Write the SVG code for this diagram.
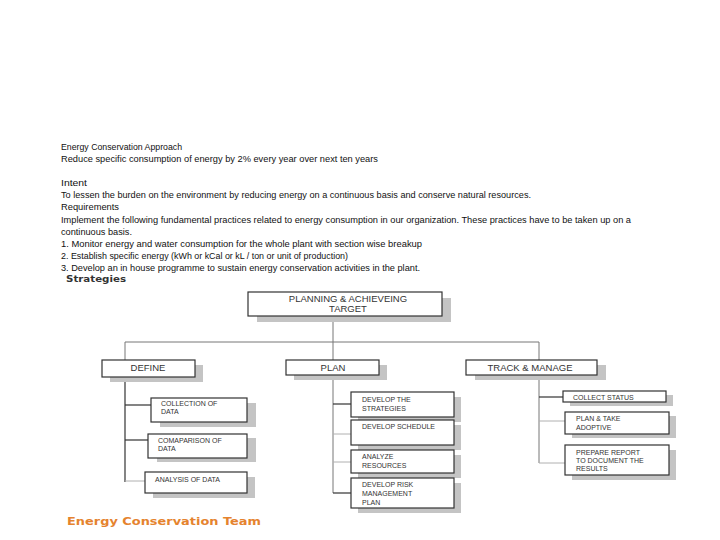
<svg xmlns="http://www.w3.org/2000/svg" width="720" height="540" viewBox="0 0 720 540">
<style>
.p{font-family:"Liberation Sans",Arial,sans-serif;font-size:8.8px;fill:#111}
.h{font-family:"DejaVu Sans","Liberation Sans",sans-serif;font-weight:bold;font-size:8.5px;fill:#333}
.box{fill:#fff;stroke:#333;stroke-width:1.2}
.sh{fill:#c4c4c4}
.t1{font-family:"Liberation Sans",Arial,sans-serif;font-size:9.5px;fill:#333;text-anchor:middle}
.t2{font-family:"Liberation Sans",Arial,sans-serif;font-size:7px;fill:#333}
.dk{stroke:#333;stroke-width:1.2;fill:none}
.md{stroke:#777;stroke-width:1;fill:none}
.lt{stroke:#b0b0b0;stroke-width:1;fill:none}
</style>
<rect width="720" height="540" fill="#fff"/>
<g id="text-block">
<text class="p" x="61" y="150" textLength="121" lengthAdjust="spacingAndGlyphs">Energy Conservation Approach</text>
<text class="p" x="61" y="161.5" textLength="317" lengthAdjust="spacingAndGlyphs">Reduce specific consumption of energy by 2% every year over next ten years</text>
<text class="p" x="61" y="186" textLength="26" lengthAdjust="spacingAndGlyphs">Intent</text>
<text class="p" x="61" y="198" textLength="470" lengthAdjust="spacingAndGlyphs">To lessen the burden on the environment by reducing energy on a continuous basis and conserve natural resources.</text>
<text class="p" x="61" y="210" textLength="58" lengthAdjust="spacingAndGlyphs">Requirements</text>
<text class="p" x="61" y="222.5" textLength="570" lengthAdjust="spacingAndGlyphs">Implement the following fundamental practices related to energy consumption in our organization. These practices have to be taken up on a</text>
<text class="p" x="61" y="234.5" textLength="71" lengthAdjust="spacingAndGlyphs">continuous basis.</text>
<text class="p" x="61" y="246.5" textLength="361" lengthAdjust="spacingAndGlyphs">1. Monitor energy and water consumption for the whole plant with section wise breakup</text>
<text class="p" x="61" y="258.5" textLength="287" lengthAdjust="spacingAndGlyphs">2. Establish specific energy (kWh or kCal or kL / ton or unit of production)</text>
<text class="p" x="61" y="270.5" textLength="359" lengthAdjust="spacingAndGlyphs">3. Develop an in house programme to sustain energy conservation activities in the plant.</text>
<text class="h" x="66" y="282" textLength="60" lengthAdjust="spacingAndGlyphs">Strategies</text>
</g>
<g id="connectors">
<path class="md" d="M333 316V360"/>
<path class="md" d="M125 342H539V360"/>
<path class="md" d="M125 342V360"/>
<path class="dk" d="M125 377V482"/>
<path class="dk" d="M125 405H151"/>
<path class="dk" d="M125 440H148"/>
<path class="lt" d="M125 481H145"/>
<path class="md" d="M333 375V493"/>
<path class="dk" d="M333 404H351"/>
<path class="lt" d="M333 434H351"/>
<path class="lt" d="M333 462H351"/>
<path class="dk" d="M333 493H351"/>
<path class="md" d="M539 375V463"/>
<path class="dk" d="M539 397H563"/>
<path class="lt" d="M539 421H565"/>
<path class="lt" d="M539 463H565"/>
</g>
<g id="node-target">
<rect class="sh" x="257" y="298" width="194" height="24"/>
<rect class="box" x="248" y="292" width="194" height="24"/>
<text class="t1" x="348" y="302">PLANNING &amp; ACHIEVEING</text>
<text class="t1" x="348" y="312">TARGET</text>
</g>
<g id="node-define">
<rect class="sh" x="110" y="365" width="93" height="17"/>
<rect class="box" x="102" y="360" width="93" height="17"/>
<text class="t1" x="148" y="371">DEFINE</text>
</g>
<g id="node-plan">
<rect class="sh" x="294" y="365" width="93" height="15"/>
<rect class="box" x="286" y="360" width="93" height="15"/>
<text class="t1" x="333" y="371">PLAN</text>
</g>
<g id="node-track">
<rect class="sh" x="475" y="365" width="131" height="15"/>
<rect class="box" x="466" y="360" width="131" height="15"/>
<text class="t1" x="530" y="371">TRACK &amp; MANAGE</text>
</g>
<g id="node-collection">
<rect class="sh" x="160" y="403" width="96" height="24"/>
<rect class="box" x="151" y="398" width="96" height="24"/>
<text class="t2" x="161" y="406">COLLECTION OF</text>
<text class="t2" x="161" y="414">DATA</text>
</g>
<g id="node-comparison">
<rect class="sh" x="157" y="438" width="99" height="24"/>
<rect class="box" x="148" y="434" width="99" height="24"/>
<text class="t2" x="158" y="443">COMAPARISON  OF</text>
<text class="t2" x="158" y="451">DATA</text>
</g>
<g id="node-analysis">
<rect class="sh" x="153" y="477" width="102" height="21"/>
<rect class="box" x="145" y="472" width="102" height="21"/>
<text class="t2" x="155" y="482">ANALYSIS OF DATA</text>
</g>
<g id="node-strategies">
<rect class="sh" x="358" y="397" width="103" height="25"/>
<rect class="box" x="351" y="392" width="103" height="25"/>
<text class="t2" x="362" y="402">DEVELOP THE</text>
<text class="t2" x="362" y="411">STRATEGIES</text>
</g>
<g id="node-schedule">
<rect class="sh" x="358" y="425" width="103" height="25"/>
<rect class="box" x="351" y="420" width="103" height="25"/>
<text class="t2" x="362" y="429">DEVELOP SCHEDULE</text>
</g>
<g id="node-resources">
<rect class="sh" x="358" y="455" width="103" height="23"/>
<rect class="box" x="351" y="450" width="103" height="23"/>
<text class="t2" x="362" y="459">ANALYZE</text>
<text class="t2" x="362" y="468">RESOURCES</text>
</g>
<g id="node-risk">
<rect class="sh" x="358" y="483" width="103" height="30"/>
<rect class="box" x="351" y="478" width="103" height="30"/>
<text class="t2" x="362" y="487">DEVELOP RISK</text>
<text class="t2" x="362" y="496">MANAGEMENT</text>
<text class="t2" x="362" y="505">PLAN</text>
</g>
<g id="node-collect">
<rect class="sh" x="570" y="395" width="103" height="11"/>
<rect class="box" x="563" y="391" width="103" height="11"/>
<text class="t2" x="573" y="400">COLLECT STATUS</text>
</g>
<g id="node-adoptive">
<rect class="sh" x="572" y="416" width="104" height="22"/>
<rect class="box" x="565" y="412" width="104" height="22"/>
<text class="t2" x="576" y="421">PLAN &amp; TAKE</text>
<text class="t2" x="576" y="430">ADOPTIVE</text>
</g>
<g id="node-report">
<rect class="sh" x="572" y="450" width="104" height="30"/>
<rect class="box" x="565" y="445" width="104" height="30"/>
<text class="t2" x="576" y="455">PREPARE REPORT</text>
<text class="t2" x="576" y="463">TO DOCUMENT THE</text>
<text class="t2" x="576" y="471">RESULTS</text>
</g>
<text x="67" y="525" font-family="DejaVu Sans, Liberation Sans, sans-serif" font-weight="bold" font-size="10" fill="#E5832E" textLength="194" lengthAdjust="spacingAndGlyphs">Energy Conservation Team</text>
</svg>
